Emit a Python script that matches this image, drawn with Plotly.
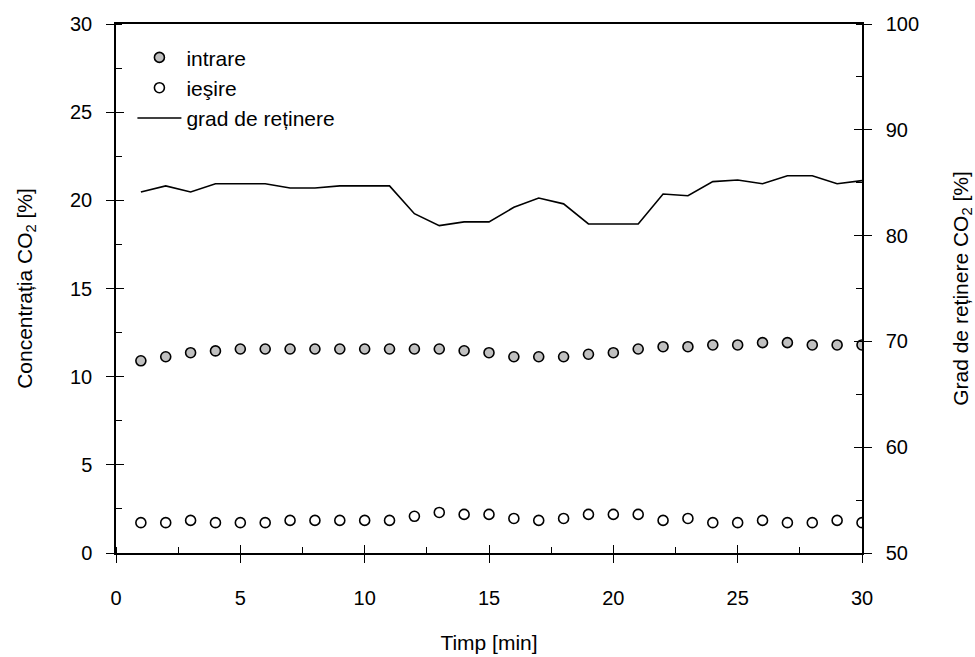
import plotly.graph_objects as go

timp = list(range(1, 31))
intrare = [10.9, 11.13, 11.36, 11.46, 11.57, 11.57, 11.57, 11.57, 11.57, 11.57,
           11.57, 11.57, 11.57, 11.47, 11.36, 11.13, 11.13, 11.13, 11.27, 11.36,
           11.57, 11.7, 11.7, 11.8, 11.8, 11.93, 11.93, 11.8, 11.8, 11.8]
iesire = [1.72, 1.72, 1.85, 1.72, 1.72, 1.72, 1.85, 1.85, 1.85, 1.85,
          1.85, 2.08, 2.3, 2.19, 2.19, 1.96, 1.85, 1.96, 2.19, 2.19,
          2.19, 1.85, 1.96, 1.72, 1.72, 1.85, 1.72, 1.72, 1.85, 1.72]
grad = [84.12, 84.7, 84.12, 84.9, 84.9, 84.9, 84.5, 84.5, 84.7, 84.7,
        84.7, 82.07, 80.94, 81.3, 81.3, 82.67, 83.55, 83.0, 81.1, 81.1,
        81.1, 83.93, 83.77, 85.1, 85.25, 84.9, 85.66, 85.66, 84.9, 85.2]

FONT = "Liberation Sans, Arial, sans-serif"
fs_tick = 20
fs_text = 21

fig = go.Figure()
fig.add_trace(go.Scatter(x=timp, y=intrare, mode="markers", name="intrare",
                         marker=dict(size=10, color="#c0c0c0",
                                     line=dict(color="black", width=1.6)),
                         xaxis="x", yaxis="y"))
fig.add_trace(go.Scatter(x=timp, y=iesire, mode="markers", name="ieşire",
                         marker=dict(size=10, color="white",
                                     line=dict(color="black", width=1.6)),
                         xaxis="x", yaxis="y"))
fig.add_trace(go.Scatter(x=timp, y=grad, mode="lines", name="grad de reținere",
                         line=dict(color="black", width=1.6),
                         xaxis="x", yaxis="y2"))
# empty helper traces so the overlay tick axes get drawn
fig.add_trace(go.Scatter(x=[], y=[], xaxis="x3", yaxis="y3", showlegend=False, hoverinfo="skip"))
fig.add_trace(go.Scatter(x=[], y=[], xaxis="x3", yaxis="y4", showlegend=False, hoverinfo="skip"))

common = dict(showgrid=False, zeroline=False, linecolor="black", linewidth=1.5,
              tickcolor="black", tickwidth=1.2, automargin=False,
              tickfont=dict(family=FONT, size=fs_tick, color="black"))
overlay = dict(showticklabels=False, showline=False, showgrid=False, zeroline=False,
               tickcolor="black", tickwidth=1.2, ticks="inside", ticklen=8, automargin=False)

fig.update_layout(
    width=975, height=657,
    margin=dict(l=116, r=113, t=24, b=104),
    paper_bgcolor="white", plot_bgcolor="white",
    font=dict(family=FONT, size=fs_text, color="black"),
    showlegend=True,
    legend=dict(x=0.022, y=0.975, xanchor="left", yanchor="top",
                bgcolor="rgba(0,0,0,0)", borderwidth=0, itemwidth=44,
                font=dict(family=FONT, size=fs_text, color="black"),
                tracegroupgap=0),
    xaxis=dict(range=[0, 30], dtick=5, tick0=0, ticks="outside", ticklen=8,
               showline=True, mirror=True, ticklabelstandoff=18,
               minor=dict(dtick=2.5, ticks="inside", ticklen=6, tickcolor="black", tickwidth=1),
               title=dict(text="Timp [min]", font=dict(family=FONT, size=fs_text), standoff=28),
               anchor="y", **common),
    yaxis=dict(range=[0, 30], dtick=5, tick0=0, ticks="outside", ticklen=8,
               showline=True, ticklabelstandoff=10,
               minor=dict(dtick=2.5, ticks="inside", ticklen=6, tickcolor="black", tickwidth=1),
               title=dict(text="Concentrația CO<sub>2</sub> [%]", font=dict(family=FONT, size=fs_text), standoff=32),
               anchor="x", **common),
    yaxis2=dict(range=[50, 100], dtick=10, tick0=50, ticks="outside", ticklen=8,
                showline=True, side="right", overlaying="y", anchor="x", ticklabelstandoff=10,
                minor=dict(dtick=5, ticks="inside", ticklen=6, tickcolor="black", tickwidth=1),
                title=dict(text="Grad de reținere CO<sub>2</sub> [%]", font=dict(family=FONT, size=fs_text), standoff=38),
                **common),
    xaxis3=dict(range=[0, 30], dtick=5, tick0=0, overlaying="x", anchor="y", side="bottom", **overlay),
    yaxis3=dict(range=[0, 30], dtick=5, tick0=0, overlaying="y", anchor="x", side="left", **overlay),
    yaxis4=dict(range=[50, 100], dtick=10, tick0=50, overlaying="y", anchor="x", side="right", **overlay),
)

fig.write_html("out.html")
